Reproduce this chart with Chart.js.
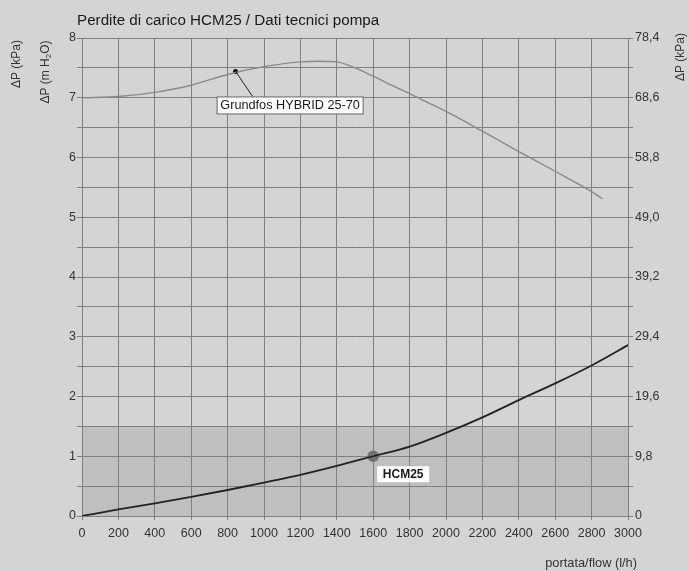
<!DOCTYPE html>
<html>
<head>
<meta charset="utf-8">
<script src="https://cdn.jsdelivr.net/npm/chart.js@4"></script>
<style>
html,body{margin:0;padding:0;background:#d3d4d6;}
canvas{display:block;}
</style>
</head>
<body>
<canvas id="c" width="689" height="571"></canvas>
<script>
// ---- data ----
const hcmFlow = [0,200,400,600,800,1000,1200,1400,1600,1800,2000,2200,2400,2600,2800,3000];
const hcmDp   = [0,0.11,0.21,0.32,0.435,0.56,0.69,0.84,1.0,1.16,1.39,1.65,1.94,2.22,2.52,2.86];
const pumpFlow = [0,200,400,600,800,1000,1200,1300,1400,1500,1600,1700,1800,1900,2000,2200,2400,2600,2800,2860];
const pumpDp   = [7.0,7.02,7.09,7.21,7.39,7.52,7.6,7.61,7.6,7.5,7.36,7.21,7.07,6.92,6.77,6.44,6.1,5.77,5.43,5.31];
const pumpMark = [844, 7.44];
const hcmMark  = [1600, 1.0];
const shadeBand = [0, 1.5];
const xTicks = [0,200,400,600,800,1000,1200,1400,1600,1800,2000,2200,2400,2600,2800,3000];
const kpaLabels = ['0','9,8','19,6','29,4','39,2','49,0','58,8','68,6','78,4'];
const titleText = 'Perdite di carico HCM25 / Dati tecnici pompa';
const pumpName = 'Grundfos HYBRID 25-70';
const hcmName = 'HCM25';

const FONT = '"Liberation Sans", Arial, sans-serif';
const GRID = '#808080';

const bgPlugin = {
  id: 'bg',
  beforeDraw(chart) {
    const ctx = chart.ctx, a = chart.chartArea, y = chart.scales.y;
    ctx.save();
    ctx.fillStyle = '#d3d4d6';
    ctx.fillRect(0, 0, chart.width, chart.height);
    ctx.fillStyle = '#bebfc1';
    const t = y.getPixelForValue(shadeBand[1]), b = y.getPixelForValue(shadeBand[0]);
    ctx.fillRect(a.left, t, a.right - a.left, b - t);
    ctx.restore();
  },
  afterDatasetsDraw(chart) {
    const ctx = chart.ctx, xs = chart.scales.x, ys = chart.scales.y;
    ctx.save();
    // pump annotation
    const px = xs.getPixelForValue(pumpMark[0]), py = ys.getPixelForValue(pumpMark[1]);
    ctx.strokeStyle = '#222'; ctx.lineWidth = 1;
    ctx.beginPath(); ctx.moveTo(px, py); ctx.lineTo(px + 17, py + 25); ctx.stroke();
    ctx.font = '12.7px ' + FONT;
    const bx = px - 18.5, by = py + 25.5, bw = 146, bh = 17;
    ctx.fillStyle = '#fff'; ctx.fillRect(bx, by, bw, bh);
    ctx.strokeStyle = '#666'; ctx.strokeRect(bx, by, bw, bh);
    ctx.fillStyle = '#1a1a1a'; ctx.textAlign = 'center'; ctx.textBaseline = 'middle';
    ctx.fillText(pumpName, bx + bw / 2, by + bh / 2 + 0.5);
    // hcm annotation
    const hx = xs.getPixelForValue(hcmMark[0]), hy = ys.getPixelForValue(hcmMark[1]);
    const hbx = hx + 4, hby = hy + 10, hbw = 52, hbh = 16;
    ctx.fillStyle = '#fff'; ctx.fillRect(hbx, hby, hbw, hbh);
    ctx.font = 'bold 12px ' + FONT; ctx.fillStyle = '#1a1a1a';
    ctx.fillText(hcmName, hbx + hbw / 2, hby + hbh / 2 + 0.5);
    ctx.restore();
  },
  afterDraw(chart) {
    const ctx = chart.ctx;
    ctx.save();
    ctx.fillStyle = '#1a1a1a';
    ctx.font = '15.2px ' + FONT; ctx.textAlign = 'left'; ctx.textBaseline = 'middle';
    ctx.fillText(titleText, 77, 21);
    ctx.fillStyle = '#333';
    ctx.font = '12px ' + FONT;
    // left kPa
    ctx.save(); ctx.translate(17, 64); ctx.rotate(-Math.PI / 2);
    ctx.textAlign = 'center'; ctx.fillText('\u0394P (kPa)', 0, 0); ctx.restore();
    // m H2O
    ctx.save(); ctx.translate(46, 72); ctx.rotate(-Math.PI / 2);
    ctx.textAlign = 'left';
    const p1 = '\u0394P (m H', p2 = '2', p3 = 'O)';
    ctx.font = '12px ' + FONT; const w1 = ctx.measureText(p1).width, w3 = ctx.measureText(p3).width;
    ctx.font = '8px ' + FONT; const w2 = ctx.measureText(p2).width;
    let sx = -(w1 + w2 + w3) / 2;
    ctx.font = '12px ' + FONT; ctx.fillText(p1, sx, 0); sx += w1;
    ctx.font = '8px ' + FONT; ctx.fillText(p2, sx, 3); sx += w2;
    ctx.font = '12px ' + FONT; ctx.fillText(p3, sx, 0);
    ctx.restore();
    // right kPa
    ctx.save(); ctx.translate(681, 57); ctx.rotate(-Math.PI / 2);
    ctx.textAlign = 'center'; ctx.fillText('\u0394P (kPa)', 0, 0); ctx.restore();
    // flow
    ctx.font = '12.8px ' + FONT;
    ctx.textAlign = 'right'; ctx.fillText('portata/flow (l/h)', 637, 563);
    ctx.restore();
  }
};

new Chart(document.getElementById('c'), {
  type: 'line',
  data: {
    datasets: [
      { label: 'pump', data: pumpFlow.map((x, i) => ({ x, y: pumpDp[i] })), borderColor: '#8a8a8a', borderWidth: 1.4, pointRadius: 0, cubicInterpolationMode: 'monotone', yAxisID: 'y' },
      { label: 'hcm', data: hcmFlow.map((x, i) => ({ x, y: hcmDp[i] })), borderColor: '#222', borderWidth: 1.8, pointRadius: 0, cubicInterpolationMode: 'monotone', yAxisID: 'y' },
      { label: 'pm', data: [{ x: pumpMark[0], y: pumpMark[1] }], showLine: false, pointRadius: 2.5, pointBackgroundColor: '#111', pointBorderWidth: 0, yAxisID: 'y' },
      { label: 'hm', data: [{ x: hcmMark[0], y: hcmMark[1] }], showLine: false, pointRadius: 5.8, pointBackgroundColor: '#727272', pointBorderWidth: 0, yAxisID: 'y' }
    ]
  },
  options: {
    responsive: false, animation: false,
    layout: { padding: { top: 38, left: 0, right: 0, bottom: 0 } },
    plugins: { legend: { display: false }, tooltip: { enabled: false }, title: { display: false } },
    scales: {
      x: {
        type: 'linear', position: 'bottom', min: 0, max: 3000,
        afterBuildTicks(s) { s.ticks = xTicks.map(v => ({ value: v })); },
        afterFit(s) { s.height = 55; },
        ticks: { color: '#333', font: { family: FONT, size: 12.5 }, padding: 6, maxRotation: 0, autoSkip: false, callback: v => String(v) },
        grid: { color: GRID, lineWidth: 1, tickLength: 4 },
        border: { color: GRID, width: 1 }
      },
      y: {
        position: 'left', min: 0, max: 8,
        afterBuildTicks(s) { const t = []; for (let i = 0; i <= 16; i++) t.push({ value: i * 0.5 }); s.ticks = t; },
        afterFit(s) { s.width = 82; },
        ticks: { color: '#333', font: { family: FONT, size: 12.5 }, padding: 1, autoSkip: false, callback: (v, i) => (i % 2 === 0 ? String(i / 2) : '') },
        grid: { color: GRID, lineWidth: 1, tickLength: 5 },
        border: { color: GRID, width: 1 }
      },
      y2: {
        position: 'right', min: 0, max: 78.4,
        afterBuildTicks(s) { const t = []; for (let i = 0; i <= 16; i++) t.push({ value: i * 4.9 }); s.ticks = t; },
        afterFit(s) { s.width = 61; },
        ticks: { color: '#333', font: { family: FONT, size: 12.5 }, padding: 2, autoSkip: false, callback: (v, i) => (i % 2 === 0 ? kpaLabels[i / 2] : '') },
        grid: { color: GRID, lineWidth: 1, tickLength: 5, drawOnChartArea: false },
        border: { color: GRID, width: 1 }
      }
    }
  },
  plugins: [bgPlugin]
});
</script>
</body>
</html>
